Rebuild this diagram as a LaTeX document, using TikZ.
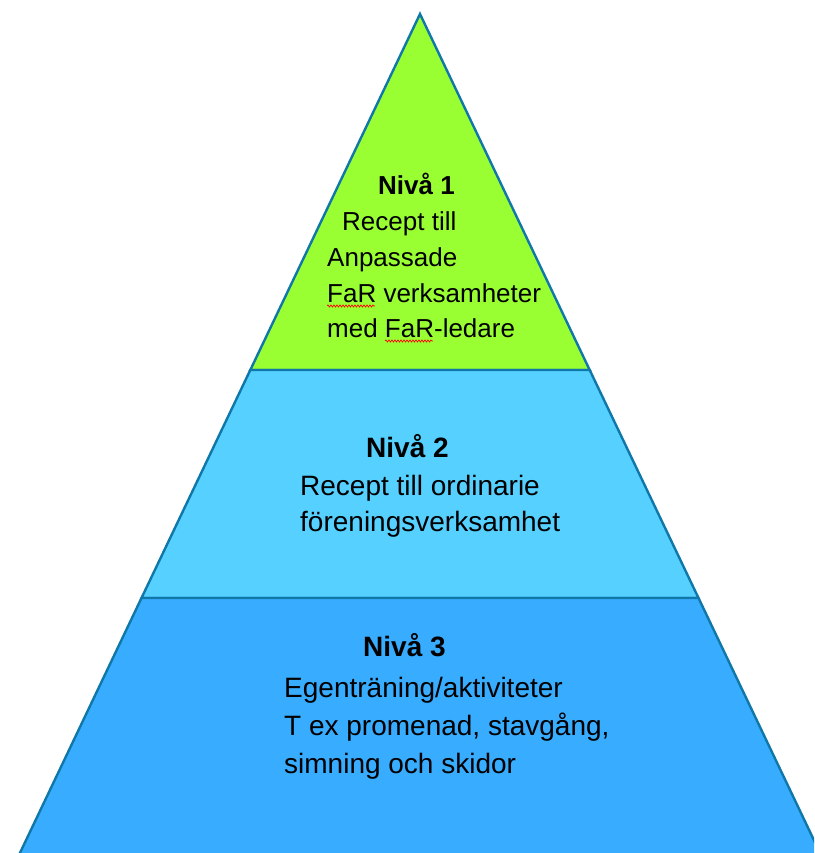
\documentclass[tikz,border=0pt]{standalone}
\usepackage{fontspec}
\setmainfont{Liberation Sans}
\usetikzlibrary{decorations.pathmorphing}
\definecolor{nivaA}{RGB}{153,255,51}
\definecolor{nivaB}{RGB}{85,208,255}
\definecolor{nivaC}{RGB}{56,172,255}
\definecolor{kant}{RGB}{16,120,168}
\begin{document}
\begin{tikzpicture}[x=1pt,y=-1pt,
    band/.style={draw=kant,line width=2.4pt},
    rad/.style={anchor=base west,inner sep=0pt,font=\fontsize{28}{34}\selectfont},
    radA/.style={anchor=base west,inner sep=0pt,font=\fontsize{26}{31}\selectfont},
    rubrik/.style={anchor=base west,inner sep=0pt,font=\fontsize{28}{34}\selectfont\bfseries},
    rubrikA/.style={anchor=base west,inner sep=0pt,font=\fontsize{26}{31}\selectfont\bfseries},
    stav/.style={red,line width=0.7pt,decorate,decoration={snake,amplitude=1pt,segment length=3pt}}]
      \useasboundingbox (0,0) rectangle (814,853);
      \clip (0,0) rectangle (814,853);
      % pyramid
      \coordinate (topp) at (420,14);
      \filldraw[band,fill=nivaA] (topp) -- (589.7,370) -- (250.3,370) -- cycle;
      \filldraw[band,fill=nivaB] (250.3,370) -- (589.7,370) -- (698.5,598) -- (141.5,598) -- cycle;
      \filldraw[band,fill=nivaC] (141.5,598) -- (698.5,598) -- (823.4,860) -- (16.6,860) -- cycle;
      % level 1
      \node[rubrikA] (niva1) at (378,194) {Nivå 1};
      \node[radA] (rad11) at (342,230) {Recept till};
      \node[radA] (rad12) at (327,266) {Anpassade};
      \node[radA] (rad13) at (327,302) {FaR verksamheter};
      \node[radA] (rad14) at (327,337) {med FaR-ledare};
      \draw[stav] (327,306) -- (375,306);
      \draw[stav] (385,341) -- (433,341);
      % level 2
      \node[rubrik] (niva2) at (366,457) {Nivå 2};
      \node[rad] (rad21) at (300,495) {Recept till ordinarie};
      \node[rad] (rad22) at (300,531) {föreningsverksamhet};
      % level 3
      \node[rubrik] (niva3) at (363,656) {Nivå 3};
      \node[rad] (rad31) at (284,697) {Egenträning/aktiviteter};
      \node[rad] (rad32) at (284,735) {T ex promenad, stavgång,};
      \node[rad] (rad33) at (284,773) {simning och skidor};
    \end{tikzpicture}
\end{document}
